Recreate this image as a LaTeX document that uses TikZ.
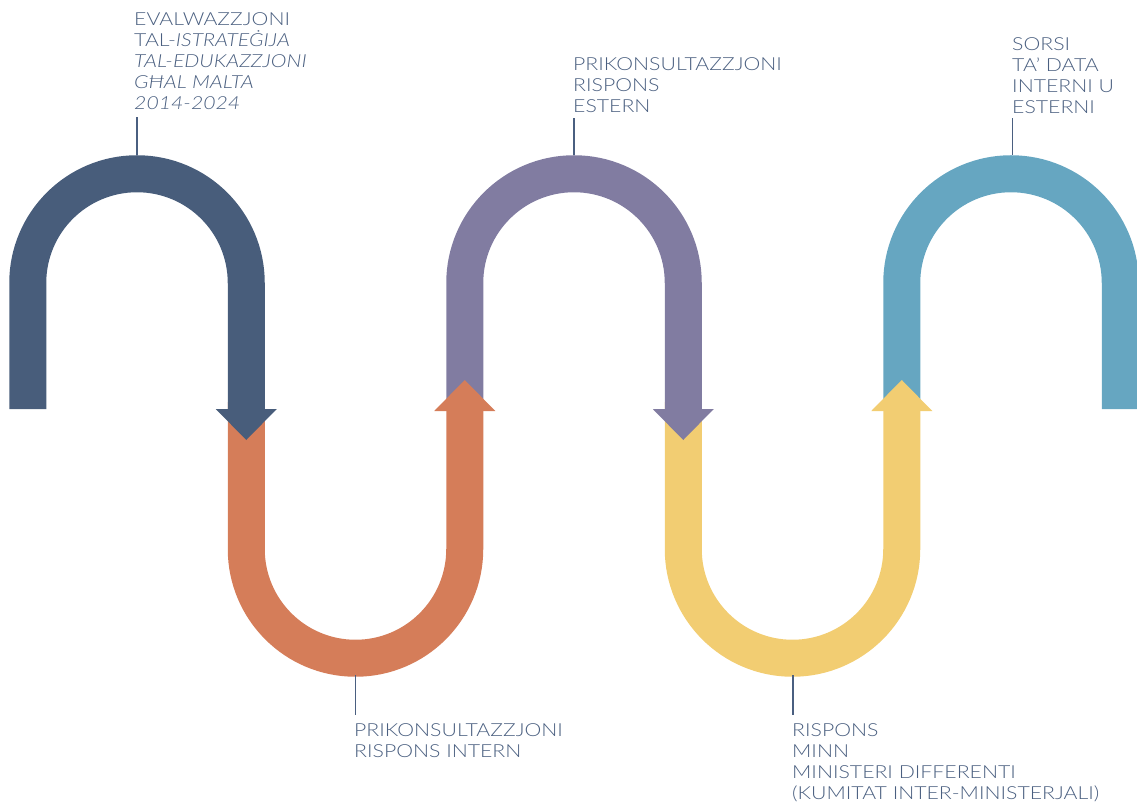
\documentclass[tikz,border=0pt]{standalone}
\usepackage{fontspec}
\setmainfont{Lato}[UprightFont={* Light}, ItalicFont={* Light Italic}, FakeStretch=1.18]
\definecolor{cdark}{RGB}{72,93,123}
\definecolor{corange}{RGB}{213,125,89}
\definecolor{cpurple}{RGB}{129,124,161}
\definecolor{cyellow}{RGB}{242,205,114}
\definecolor{cteal}{RGB}{102,166,193}
\definecolor{ctext}{RGB}{74,95,128}
\tikzset{
  band/.style={line width=37pt},
  lbl/.style={anchor=north west, inner sep=0pt, align=left, text=ctext,
    font=\fontsize{18}{21}\selectfont},
  lead/.style={ctext, line width=1.3pt}
}
\begin{document}
\begin{tikzpicture}[x=1pt, y=1pt]
      \clip (0,0) rectangle (1137,807);

      % teal arch
      \draw[band, cteal] (901.75,398) -- (901.75,524) arc[start angle=180, end angle=0, radius=109.25] -- (1120.25,398);
      \coordinate (t5) at (1011,652);

      % yellow u, arrow up
      \draw[band, cyellow] (683.25,405) -- (683.25,258) arc[start angle=180, end angle=360, radius=109.25] -- (901.75,396);
      \fill[cyellow] (871.25,396) -- (932.25,396) -- (901.75,427) -- cycle;
      \coordinate (t4) at (792.5,132);

      % purple arch, arrow down
      \draw[band, cpurple] (464.75,398) -- (464.75,524) arc[start angle=180, end angle=0, radius=109.25] -- (683.25,398);
      \fill[cpurple] (652.75,398) -- (713.75,398) -- (683.25,367) -- cycle;
      \coordinate (t3) at (574,652);

      % orange u, arrow up
      \draw[band, corange] (246.25,405) -- (246.25,258) arc[start angle=180, end angle=360, radius=109.25] -- (464.75,396);
      \fill[corange] (434.25,396) -- (495.25,396) -- (464.75,427) -- cycle;
      \coordinate (t2) at (355.5,132);

      % dark arch, arrow down
      \draw[band, cdark] (27.75,398) -- (27.75,524) arc[start angle=180, end angle=0, radius=109.25] -- (246.25,398);
      \fill[cdark] (215.75,398) -- (276.75,398) -- (246.25,367) -- cycle;
      \coordinate (t1) at (137,652);

      \node[lbl] (eval) at (134,795) {EVALWAZZJONI\\TAL-\textit{ISTRATEĠIJA}\\\textit{TAL-EDUKAZZJONI}\\\textit{GĦAL MALTA}\\\textit{2014-2024}};
      \node[lbl] (pre) at (573,750) {PRIKONSULTAZZJONI\\RISPONS\\ESTERN};
      \node[lbl] (src) at (1012,770) {SORSI\\TA’ DATA\\INTERNI U\\ESTERNI};
      \node[lbl] (intern) at (354,84) {PRIKONSULTAZZJONI\\RISPONS INTERN};
      \node[lbl] (minn) at (792,84) {RISPONS\\MINN\\MINISTERI DIFFERENTI\\(KUMITAT INTER-MINISTERJALI)};

      \coordinate (e1) at (137,690);
      \coordinate (e3) at (574,689);
      \coordinate (e5) at (1012.5,689);
      \coordinate (e2) at (355.5,92);
      \coordinate (e4) at (793,92);

      \draw[lead] (t1) -- (e1);
      \draw[lead] (t3) -- (e3);
      \draw[lead] (t5 -| e5) -- (e5);
      \draw[lead] (t2) -- (e2);
      \draw[lead] (t4 -| e4) -- (e4);
    \end{tikzpicture}
\end{document}
